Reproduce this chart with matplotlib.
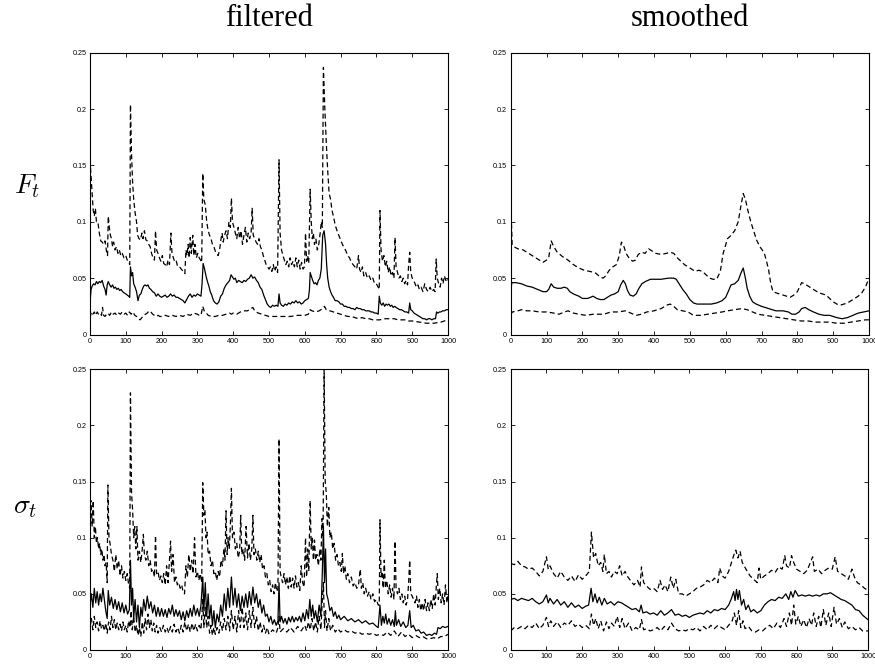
import numpy as np
import matplotlib
matplotlib.use("Agg")
import matplotlib.pyplot as plt

plt.rcParams['mathtext.fontset'] = 'cm'
plt.rcParams['font.family'] = ['Liberation Sans', 'DejaVu Sans']

# ---- F_t filtered: (t, value) pairs ----
F_filt_up = [(0,0.155),(3,0.14),(6,0.125),(9,0.11),(12,0.105),(15,0.112),(18,0.1),(22,0.1),(26,0.09),(30,0.083),
    (34,0.082),(38,0.08),(42,0.083),(46,0.074),(49,0.07),(51,0.105),(54,0.095),(57,0.088),(60,0.085),(63,0.078),
    (66,0.082),(70,0.075),(74,0.078),(78,0.072),(82,0.075),(86,0.07),(90,0.072),(95,0.068),(100,0.07),(104,0.066),
    (108,0.064),(111,0.062),(113,0.204),(116,0.16),(119,0.135),(122,0.12),(126,0.108),(130,0.1),(133,0.088),(137,0.085),
    (141,0.084),(145,0.09),(148,0.085),(152,0.092),(156,0.084),(160,0.083),(164,0.08),(168,0.078),(172,0.072),(176,0.068),
    (180,0.066),(183,0.092),(186,0.075),(190,0.072),(194,0.068),(198,0.065),(202,0.07),(206,0.063),(210,0.062),(214,0.06),
    (218,0.066),(222,0.062),(226,0.09),(229,0.072),(233,0.068),(237,0.064),(241,0.065),(245,0.06),(250,0.06),(255,0.058),
    (260,0.056),(265,0.054),(268,0.075),(271,0.07),(274,0.08),(277,0.068),(280,0.086),(283,0.072),(287,0.088),(290,0.07),
    (293,0.08),(297,0.068),(301,0.072),(305,0.068),(309,0.066),(312,0.064),(315,0.143),(318,0.12),(322,0.115),(326,0.1),
    (330,0.092),(334,0.088),(338,0.085),(342,0.08),(346,0.078),(350,0.074),(354,0.072),(358,0.07),(362,0.075),(366,0.085),
    (369,0.09),(372,0.082),(376,0.088),(380,0.092),(384,0.085),(388,0.1),(392,0.095),(395,0.121),(398,0.1),(402,0.095),
    (406,0.09),(410,0.085),(414,0.095),(418,0.085),(422,0.092),(426,0.08),(430,0.088),(434,0.095),(438,0.082),(442,0.09),
    (446,0.085),(450,0.09),(453,0.112),(456,0.088),(460,0.085),(464,0.082),(468,0.08),(472,0.085),(476,0.078),(480,0.075),
    (484,0.07),(488,0.066),(492,0.062),(496,0.06),(500,0.058),(504,0.06),(508,0.056),(512,0.062),(516,0.056),(520,0.06),
    (524,0.055),(528,0.155),(531,0.09),(535,0.075),(539,0.07),(543,0.066),(547,0.062),(551,0.065),(555,0.06),(559,0.068),
    (563,0.062),(567,0.065),(571,0.06),(575,0.068),(579,0.06),(583,0.066),(587,0.058),(591,0.064),(595,0.058),(599,0.06),
    (602,0.09),(605,0.065),(608,0.07),(611,0.063),(615,0.129),(618,0.1),(621,0.085),(624,0.09),(627,0.08),(631,0.085),
    (635,0.075),(639,0.08),(643,0.09),(646,0.1),(649,0.095),(652,0.237),(656,0.2),(660,0.17),(664,0.145),(668,0.125),
    (672,0.12),(676,0.11),(680,0.105),(685,0.097),(690,0.092),(695,0.088),(700,0.084),(705,0.08),(710,0.077),(715,0.074),
    (720,0.07),(725,0.068),(730,0.064),(735,0.062),(740,0.06),(745,0.058),(750,0.07),(753,0.058),(757,0.055),(761,0.06),
    (765,0.052),(770,0.055),(775,0.05),(780,0.052),(785,0.048),(790,0.05),(795,0.045),(800,0.045),(805,0.042),(808,0.04),
    (810,0.11),(813,0.075),(817,0.065),(821,0.07),(825,0.06),(829,0.065),(833,0.055),(837,0.06),(841,0.052),(845,0.055),
    (849,0.05),(852,0.086),(855,0.06),(859,0.055),(863,0.05),(867,0.052),(871,0.047),(875,0.05),(879,0.045),(883,0.048),
    (887,0.044),(890,0.062),(893,0.073),(896,0.055),(900,0.05),(904,0.048),(908,0.045),(912,0.042),(916,0.044),(920,0.04),
    (925,0.042),(930,0.038),(935,0.045),(940,0.04),(945,0.038),(950,0.042),(955,0.038),(960,0.04),(964,0.038),(967,0.067),
    (970,0.05),(974,0.045),(978,0.042),(982,0.05),(986,0.045),(990,0.052),(994,0.048),(998,0.05),(1000,0.048)]

F_filt_mid = [(0,0.028),(3,0.04),(6,0.043),(10,0.045),(14,0.044),(18,0.047),(22,0.045),(26,0.047),(30,0.046),(34,0.048),
    (38,0.043),(42,0.04),(45,0.035),(48,0.044),(51,0.047),(55,0.044),(59,0.042),(63,0.044),(67,0.041),(71,0.042),
    (75,0.04),(79,0.041),(83,0.039),(87,0.04),(91,0.038),(95,0.037),(100,0.036),(104,0.035),(108,0.034),(111,0.033),
    (113,0.06),(116,0.052),(119,0.055),(122,0.045),(126,0.042),(130,0.038),(134,0.03),(138,0.035),(142,0.036),(146,0.04),
    (150,0.043),(154,0.044),(158,0.043),(162,0.044),(166,0.041),(170,0.04),(175,0.038),(180,0.037),(185,0.034),(190,0.036),
    (195,0.034),(200,0.033),(205,0.034),(210,0.035),(215,0.033),(220,0.034),(225,0.036),(230,0.034),(235,0.035),(240,0.033),
    (245,0.033),(250,0.032),(255,0.031),(260,0.03),(265,0.028),(270,0.031),(275,0.034),(280,0.036),(285,0.033),(290,0.035),
    (295,0.034),(300,0.036),(305,0.035),(310,0.034),(313,0.045),(316,0.063),(320,0.058),(324,0.052),(328,0.047),(332,0.043),
    (336,0.038),(340,0.035),(345,0.03),(350,0.028),(355,0.027),(360,0.029),(365,0.034),(370,0.036),(375,0.041),(380,0.044),
    (385,0.046),(390,0.048),(394,0.053),(398,0.051),(402,0.049),(406,0.05),(410,0.046),(415,0.048),(420,0.047),(425,0.046),
    (430,0.048),(435,0.047),(440,0.049),(445,0.05),(450,0.053),(455,0.05),(460,0.051),(465,0.048),(470,0.046),(475,0.042),
    (480,0.04),(485,0.035),(490,0.031),(495,0.027),(500,0.025),(505,0.024),(510,0.026),(515,0.025),(520,0.026),(525,0.025),
    (528,0.036),(531,0.028),(535,0.026),(540,0.025),(545,0.027),(550,0.026),(555,0.028),(560,0.027),(565,0.029),(570,0.028),
    (575,0.03),(580,0.028),(585,0.029),(590,0.027),(595,0.028),(600,0.03),(605,0.031),(610,0.032),(613,0.04),(615,0.055),
    (618,0.052),(622,0.048),(626,0.045),(630,0.046),(634,0.044),(638,0.048),(642,0.05),(646,0.058),(650,0.088),(654,0.092),
    (658,0.08),(661,0.062),(664,0.05),(668,0.042),(672,0.038),(676,0.035),(680,0.033),(685,0.03),(690,0.03),(695,0.029),
    (700,0.027),(705,0.027),(710,0.025),(715,0.025),(720,0.024),(725,0.024),(730,0.023),(735,0.023),(740,0.022),(745,0.024),
    (750,0.023),(755,0.023),(760,0.022),(765,0.022),(770,0.021),(775,0.021),(780,0.021),(785,0.02),(790,0.02),(795,0.019),
    (800,0.019),(805,0.018),(808,0.034),(811,0.028),(815,0.026),(819,0.028),(823,0.025),(827,0.027),(831,0.026),(835,0.027),
    (839,0.025),(843,0.026),(847,0.024),(851,0.025),(855,0.024),(860,0.023),(865,0.022),(870,0.022),(875,0.021),(880,0.02),
    (885,0.02),(890,0.019),(893,0.028),(896,0.022),(900,0.021),(905,0.019),(910,0.018),(915,0.017),(920,0.016),(925,0.015),
    (930,0.014),(935,0.014),(940,0.013),(945,0.014),(950,0.014),(955,0.013),(960,0.014),(965,0.014),(968,0.02),(972,0.019),
    (976,0.02),(980,0.02),(985,0.021),(990,0.021),(995,0.022),(1000,0.022)]

F_filt_low = [(0,0.015),(4,0.02),(8,0.018),(12,0.02),(16,0.017),(20,0.02),(24,0.018),(28,0.019),(32,0.017),(35,0.024),
    (38,0.017),(42,0.016),(46,0.018),(50,0.019),(55,0.017),(60,0.02),(65,0.018),(70,0.019),(75,0.017),(80,0.019),
    (85,0.018),(90,0.02),(95,0.018),(100,0.019),(105,0.017),(110,0.02),(115,0.018),(120,0.02),(125,0.017),(130,0.016),
    (135,0.014),(140,0.013),(145,0.015),(150,0.017),(155,0.018),(160,0.019),(165,0.021),(170,0.02),(175,0.018),(180,0.017),
    (185,0.016),(190,0.017),(195,0.016),(200,0.016),(210,0.017),(220,0.016),(230,0.017),(240,0.016),(250,0.017),(260,0.016),
    (270,0.018),(280,0.017),(290,0.019),(300,0.018),(305,0.017),(310,0.017),(315,0.025),(320,0.02),(325,0.019),(330,0.017),
    (340,0.016),(350,0.016),(360,0.017),(370,0.017),(380,0.018),(390,0.019),(395,0.018),(400,0.019),(410,0.018),(420,0.02),
    (430,0.021),(440,0.021),(450,0.023),(455,0.024),(460,0.021),(470,0.019),(480,0.018),(490,0.017),(500,0.016),(520,0.016),
    (540,0.016),(560,0.016),(580,0.017),(600,0.017),(610,0.018),(615,0.022),(620,0.021),(630,0.02),(640,0.021),(650,0.023),
    (655,0.025),(660,0.022),(670,0.021),(680,0.02),(690,0.019),(700,0.018),(710,0.017),(720,0.016),(730,0.016),(740,0.015),
    (750,0.014),(760,0.015),(770,0.014),(780,0.014),(790,0.013),(800,0.013),(810,0.013),(820,0.014),(830,0.014),(840,0.014),
    (850,0.014),(860,0.013),(870,0.013),(880,0.013),(890,0.012),(900,0.012),(920,0.011),(940,0.01),(960,0.01),(980,0.011),
    (1000,0.013)]

# ---- F_t smoothed ----
F_smth_up = [(0,0.12),(2,0.1),(4,0.08),(8,0.078),(20,0.076),(35,0.075),(50,0.072),(65,0.069),(80,0.066),(90,0.064),
    (100,0.066),(106,0.068),(113,0.083),(120,0.078),(130,0.073),(145,0.069),(160,0.066),(175,0.062),(190,0.059),(205,0.057),
    (220,0.056),(235,0.055),(250,0.051),(258,0.05),(265,0.052),(275,0.057),(285,0.06),(295,0.062),(303,0.07),(309,0.082),
    (315,0.079),(322,0.072),(330,0.068),(340,0.065),(348,0.066),(356,0.071),(365,0.073),(375,0.072),(385,0.076),(395,0.074),
    (405,0.072),(420,0.071),(435,0.072),(445,0.073),(455,0.072),(465,0.068),(475,0.065),(485,0.062),(495,0.06),(505,0.058),
    (515,0.056),(525,0.057),(535,0.056),(545,0.053),(555,0.05),(565,0.049),(575,0.049),(585,0.056),(593,0.072),(605,0.085),
    (612,0.087),(625,0.092),(635,0.1),(643,0.115),(649,0.125),(655,0.12),(662,0.11),(670,0.1),(678,0.092),(686,0.084),
    (695,0.078),(702,0.075),(708,0.072),(714,0.065),(720,0.057),(726,0.045),(732,0.038),(740,0.037),(750,0.036),(760,0.035),
    (770,0.034),(780,0.033),(790,0.035),(800,0.038),(806,0.042),(812,0.046),(820,0.045),(830,0.043),(840,0.041),(850,0.039),
    (860,0.037),(870,0.036),(880,0.035),(890,0.032),(900,0.029),(910,0.027),(920,0.026),(930,0.027),(940,0.028),(950,0.03),
    (960,0.032),(970,0.034),(980,0.037),(990,0.042),(1000,0.05)]

F_smth_mid = [(0,0.037),(3,0.046),(15,0.046),(30,0.045),(45,0.043),(60,0.042),(75,0.04),(90,0.038),(100,0.038),(106,0.04),
    (113,0.045),(120,0.042),(130,0.041),(140,0.041),(150,0.042),(158,0.041),(165,0.038),(175,0.036),(190,0.034),(200,0.032),
    (215,0.032),(230,0.034),(240,0.032),(250,0.031),(260,0.031),(270,0.033),(280,0.035),(290,0.036),(300,0.038),(307,0.044),
    (314,0.048),(320,0.045),(326,0.039),(333,0.035),(342,0.034),(350,0.036),(358,0.041),(366,0.045),(376,0.047),(390,0.049),
    (405,0.049),(420,0.049),(440,0.05),(455,0.05),(462,0.049),(470,0.045),(480,0.04),(490,0.036),(500,0.031),(510,0.028),
    (520,0.027),(540,0.027),(560,0.027),(575,0.028),(590,0.03),(600,0.033),(607,0.038),(615,0.044),(625,0.045),(635,0.048),
    (642,0.054),(649,0.059),(655,0.05),(660,0.041),(667,0.034),(675,0.029),(685,0.027),(700,0.025),(720,0.023),(740,0.021),
    (760,0.021),(775,0.02),(785,0.018),(795,0.018),(805,0.02),(812,0.023),(822,0.024),(832,0.022),(845,0.02),(860,0.018),
    (875,0.017),(890,0.017),(900,0.016),(910,0.015),(925,0.014),(940,0.015),(955,0.017),(970,0.019),(985,0.02),(1000,0.021)]

F_smth_low = [(0,0.018),(5,0.02),(20,0.021),(30,0.022),(45,0.021),(60,0.021),(80,0.02),(100,0.02),(120,0.019),(135,0.018),
    (150,0.02),(160,0.021),(175,0.019),(190,0.018),(210,0.017),(230,0.018),(260,0.018),(280,0.02),(300,0.02),(320,0.021),
    (335,0.019),(350,0.017),(365,0.018),(380,0.02),(400,0.021),(420,0.023),(435,0.026),(445,0.027),(455,0.025),(465,0.022),
    (480,0.021),(495,0.02),(510,0.017),(530,0.017),(550,0.018),(570,0.019),(590,0.02),(605,0.021),(625,0.022),(645,0.023),
    (660,0.022),(675,0.02),(690,0.018),(710,0.017),(730,0.016),(750,0.015),(770,0.014),(790,0.013),(810,0.012),(830,0.012),
    (850,0.011),(870,0.011),(890,0.011),(910,0.01),(930,0.01),(950,0.011),(970,0.012),(990,0.013),(1000,0.013)]

# ---- sigma_t filtered ----
S_filt_up = [(0,0.13),(3,0.133),(6,0.11),(9,0.133),(12,0.1),(15,0.11),(18,0.095),(21,0.1),(24,0.09),(27,0.095),
    (30,0.085),(33,0.09),(36,0.08),(39,0.085),(42,0.075),(45,0.078),(48,0.06),(50,0.147),(53,0.1),(56,0.095),
    (60,0.085),(64,0.08),(68,0.07),(72,0.085),(76,0.072),(80,0.08),(84,0.066),(88,0.075),(92,0.064),(96,0.07),
    (100,0.062),(104,0.068),(108,0.058),(111,0.055),(113,0.229),(116,0.14),(119,0.125),(122,0.1),(125,0.11),(128,0.09),
    (131,0.11),(134,0.08),(138,0.088),(142,0.078),(146,0.09),(149,0.103),(152,0.085),(156,0.08),(160,0.088),(164,0.075),
    (168,0.08),(172,0.07),(176,0.072),(180,0.065),(183,0.102),(186,0.068),(190,0.07),(194,0.062),(198,0.066),(202,0.06),
    (206,0.068),(210,0.058),(214,0.075),(218,0.06),(222,0.08),(225,0.097),(228,0.07),(232,0.085),(236,0.06),(240,0.065),
    (244,0.058),(248,0.06),(252,0.055),(256,0.058),(260,0.052),(264,0.05),(268,0.075),(272,0.065),(276,0.085),(280,0.07),
    (284,0.08),(288,0.068),(292,0.1),(296,0.065),(300,0.07),(304,0.062),(308,0.068),(312,0.06),(315,0.149),(318,0.12),
    (321,0.125),(324,0.1),(327,0.105),(330,0.085),(334,0.088),(338,0.075),(342,0.08),(346,0.068),(350,0.07),(354,0.062),
    (358,0.07),(362,0.065),(366,0.08),(370,0.075),(374,0.09),(377,0.08),(380,0.124),(383,0.085),(386,0.1),(389,0.09),
    (392,0.11),(395,0.144),(398,0.1),(402,0.105),(406,0.09),(410,0.095),(414,0.082),(418,0.088),(421,0.12),(424,0.085),
    (428,0.09),(432,0.08),(436,0.11),(440,0.082),(444,0.095),(448,0.08),(452,0.09),(455,0.12),(458,0.085),(462,0.09),
    (466,0.08),(470,0.088),(474,0.078),(478,0.085),(482,0.072),(486,0.075),(490,0.065),(494,0.068),(498,0.058),(502,0.062),
    (506,0.052),(510,0.058),(514,0.05),(518,0.06),(522,0.052),(525,0.055),(528,0.188),(531,0.07),(534,0.065),(538,0.06),
    (542,0.068),(546,0.058),(550,0.065),(554,0.055),(558,0.066),(562,0.056),(566,0.064),(570,0.055),(574,0.066),(578,0.056),
    (582,0.06),(586,0.053),(590,0.075),(594,0.06),(598,0.056),(602,0.1),(605,0.065),(608,0.09),(611,0.07),(615,0.133),
    (618,0.09),(621,0.1),(624,0.08),(627,0.098),(630,0.08),(634,0.085),(638,0.075),(642,0.09),(645,0.08),(648,0.117),
    (651,0.1),(654,0.25),(657,0.15),(660,0.14),(663,0.11),(667,0.127),(670,0.1),(674,0.105),(678,0.09),(682,0.095),
    (686,0.08),(690,0.085),(694,0.075),(698,0.078),(702,0.07),(705,0.086),(708,0.068),(712,0.075),(716,0.063),(720,0.068),
    (725,0.06),(730,0.065),(735,0.057),(740,0.06),(745,0.055),(750,0.058),(755,0.072),(758,0.055),(762,0.06),(766,0.05),
    (770,0.055),(775,0.048),(780,0.052),(785,0.045),(790,0.05),(795,0.043),(800,0.045),(805,0.04),(808,0.04),(810,0.116),
    (813,0.065),(816,0.07),(819,0.055),(822,0.08),(825,0.055),(829,0.062),(833,0.05),(837,0.058),(841,0.047),(845,0.055),
    (849,0.045),(852,0.097),(855,0.055),(859,0.05),(863,0.055),(867,0.045),(871,0.05),(875,0.042),(879,0.048),(883,0.04),
    (887,0.045),(890,0.06),(893,0.08),(896,0.05),(900,0.048),(904,0.045),(908,0.042),(912,0.048),(916,0.038),(920,0.045),
    (924,0.035),(928,0.042),(932,0.035),(936,0.045),(940,0.035),(944,0.042),(948,0.035),(952,0.045),(956,0.037),(960,0.05),
    (964,0.04),(967,0.055),(970,0.068),(973,0.045),(977,0.055),(981,0.042),(985,0.05),(989,0.04),(993,0.058),(997,0.042),
    (1000,0.048)]

S_filt_mid = [(0,0.04),(4,0.05),(8,0.038),(12,0.055),(16,0.042),(20,0.052),(24,0.04),(28,0.05),(32,0.043),(36,0.055),
    (40,0.045),(44,0.035),(48,0.028),(51,0.053),(55,0.04),(60,0.047),(65,0.037),(70,0.045),(75,0.036),(80,0.043),
    (85,0.034),(90,0.042),(95,0.033),(100,0.04),(105,0.032),(110,0.036),(113,0.08),(116,0.04),(119,0.055),(122,0.028),
    (126,0.045),(130,0.025),(134,0.04),(138,0.02),(142,0.038),(146,0.03),(150,0.045),(155,0.035),(160,0.048),(165,0.037),
    (170,0.043),(175,0.033),(180,0.04),(185,0.03),(190,0.038),(195,0.03),(200,0.037),(205,0.03),(210,0.036),(215,0.029),
    (220,0.037),(225,0.032),(230,0.04),(235,0.03),(240,0.036),(245,0.03),(250,0.035),(255,0.027),(260,0.034),(265,0.026),
    (270,0.035),(275,0.029),(280,0.037),(285,0.03),(290,0.04),(295,0.031),(300,0.037),(305,0.03),(310,0.04),(315,0.065),
    (318,0.035),(322,0.06),(326,0.03),(330,0.05),(334,0.028),(338,0.04),(342,0.022),(346,0.035),(350,0.02),(355,0.032),
    (360,0.025),(365,0.04),(370,0.03),(375,0.05),(380,0.035),(385,0.055),(390,0.038),(395,0.065),(400,0.04),(405,0.055),
    (410,0.038),(415,0.05),(420,0.035),(425,0.048),(430,0.038),(435,0.05),(440,0.038),(445,0.052),(450,0.04),(455,0.056),
    (460,0.042),(465,0.05),(470,0.038),(475,0.045),(480,0.033),(485,0.04),(490,0.03),(495,0.032),(500,0.025),(505,0.03),
    (510,0.023),(515,0.027),(520,0.022),(525,0.026),(528,0.06),(531,0.025),(535,0.03),(540,0.024),(545,0.028),(550,0.023),
    (555,0.029),(560,0.025),(565,0.03),(570,0.025),(575,0.029),(580,0.026),(585,0.03),(590,0.025),(595,0.033),(600,0.026),
    (605,0.036),(610,0.028),(614,0.045),(618,0.03),(622,0.04),(626,0.028),(630,0.035),(635,0.025),(640,0.04),(645,0.03),
    (649,0.07),(652,0.11),(655,0.06),(658,0.09),(661,0.05),(665,0.045),(670,0.035),(675,0.038),(680,0.03),(685,0.034),
    (690,0.028),(695,0.031),(700,0.027),(710,0.03),(720,0.026),(730,0.028),(740,0.025),(750,0.027),(760,0.024),(770,0.026),
    (780,0.023),(790,0.024),(800,0.021),(805,0.02),(810,0.04),(814,0.022),(818,0.03),(822,0.024),(826,0.032),(830,0.023),
    (835,0.028),(840,0.022),(845,0.027),(850,0.021),(853,0.035),(856,0.022),(862,0.027),(868,0.021),(875,0.025),(882,0.02),
    (888,0.022),(893,0.035),(897,0.02),(903,0.022),(910,0.017),(918,0.018),(925,0.015),(932,0.016),(940,0.013),(948,0.014),
    (955,0.013),(962,0.015),(968,0.014),(972,0.02),(978,0.019),(985,0.021),(992,0.02),(1000,0.021)]

S_filt_low = [(0,0.02),(4,0.028),(8,0.018),(12,0.03),(16,0.02),(20,0.025),(24,0.017),(28,0.026),(32,0.019),(36,0.022),
    (40,0.017),(44,0.024),(48,0.015),(52,0.025),(56,0.018),(60,0.03),(64,0.02),(68,0.027),(72,0.018),(76,0.024),
    (80,0.018),(84,0.023),(88,0.017),(92,0.025),(96,0.018),(100,0.022),(104,0.016),(108,0.026),(112,0.02),(115,0.035),
    (118,0.018),(122,0.03),(126,0.016),(130,0.022),(134,0.013),(138,0.02),(142,0.012),(146,0.025),(150,0.015),(154,0.028),
    (158,0.018),(162,0.032),(166,0.02),(170,0.027),(174,0.017),(178,0.024),(182,0.016),(186,0.022),(190,0.015),(195,0.02),
    (200,0.016),(205,0.022),(210,0.016),(215,0.02),(220,0.015),(225,0.021),(230,0.016),(235,0.023),(240,0.016),(245,0.02),
    (250,0.015),(255,0.022),(260,0.016),(265,0.025),(270,0.017),(275,0.023),(280,0.016),(285,0.024),(290,0.017),(295,0.023),
    (300,0.017),(305,0.022),(310,0.018),(315,0.045),(318,0.02),(322,0.038),(326,0.02),(330,0.03),(334,0.015),(338,0.022),
    (342,0.013),(346,0.02),(350,0.014),(355,0.02),(360,0.015),(365,0.025),(370,0.017),(375,0.028),(380,0.018),(385,0.03),
    (390,0.017),(395,0.035),(400,0.018),(405,0.03),(410,0.016),(415,0.035),(420,0.02),(425,0.038),(430,0.02),(435,0.033),
    (440,0.018),(445,0.035),(450,0.02),(455,0.038),(460,0.02),(465,0.03),(470,0.017),(475,0.025),(480,0.016),(485,0.022),
    (490,0.015),(495,0.02),(500,0.014),(510,0.018),(520,0.015),(525,0.02),(528,0.03),(531,0.016),(540,0.019),(550,0.016),
    (560,0.02),(570,0.016),(580,0.021),(590,0.017),(600,0.022),(605,0.017),(610,0.025),(615,0.018),(620,0.028),(625,0.017),
    (630,0.025),(635,0.016),(640,0.03),(645,0.018),(649,0.045),(652,0.06),(655,0.02),(658,0.035),(662,0.017),(667,0.028),
    (672,0.017),(678,0.022),(685,0.016),(692,0.019),(700,0.016),(710,0.018),(720,0.016),(730,0.017),(740,0.015),(750,0.016),
    (760,0.014),(770,0.015),(780,0.014),(790,0.015),(800,0.013),(810,0.014),(820,0.013),(830,0.016),(840,0.013),(850,0.017),
    (860,0.012),(870,0.016),(880,0.012),(890,0.014),(900,0.011),(910,0.013),(920,0.011),(930,0.012),(940,0.01),(950,0.01),
    (960,0.011),(970,0.01),(980,0.012),(990,0.012),(1000,0.014)]

# ---- sigma_t smoothed ----
S_smth_up = [(0,0.077),(10,0.076),(20,0.079),(30,0.075),(40,0.074),(50,0.072),(60,0.073),(70,0.07),(80,0.066),(90,0.07),
    (100,0.083),(105,0.072),(110,0.075),(120,0.068),(130,0.064),(140,0.07),(150,0.065),(160,0.062),(170,0.066),(180,0.061),
    (190,0.067),(200,0.063),(210,0.066),(220,0.07),(226,0.105),(232,0.082),(238,0.086),(245,0.075),(252,0.078),(258,0.07),
    (262,0.085),(268,0.068),(275,0.07),(282,0.065),(290,0.07),(298,0.068),(305,0.075),(312,0.066),(320,0.07),(328,0.065),
    (335,0.062),(345,0.058),(355,0.062),(362,0.056),(366,0.074),(372,0.06),(380,0.057),(390,0.054),(400,0.055),(410,0.052),
    (418,0.062),(425,0.054),(432,0.058),(440,0.052),(448,0.065),(455,0.055),(462,0.063),(470,0.05),(480,0.05),(490,0.048),
    (500,0.05),(510,0.052),(520,0.055),(530,0.056),(540,0.058),(550,0.062),(560,0.06),(570,0.064),(580,0.06),(585,0.073),
    (592,0.066),(600,0.064),(610,0.07),(618,0.078),(625,0.085),(630,0.089),(636,0.082),(642,0.088),(648,0.078),(655,0.074),
    (662,0.07),(670,0.066),(680,0.063),(690,0.06),(695,0.073),(700,0.063),(710,0.066),(720,0.068),(730,0.071),(740,0.069),
    (750,0.074),(760,0.072),(767,0.084),(772,0.075),(780,0.073),(786,0.084),(792,0.078),(800,0.072),(810,0.07),(820,0.068),
    (830,0.071),(845,0.083),(850,0.07),(860,0.072),(870,0.068),(880,0.071),(890,0.073),(900,0.072),(908,0.083),(915,0.07),
    (925,0.068),(935,0.066),(945,0.063),(955,0.072),(962,0.065),(970,0.06),(980,0.058),(990,0.055),(1000,0.053)]

S_smth_mid = [(0,0.045),(10,0.046),(20,0.044),(30,0.046),(40,0.045),(50,0.044),(60,0.046),(70,0.043),(80,0.041),(90,0.043),
    (100,0.049),(105,0.042),(110,0.046),(120,0.041),(130,0.045),(140,0.04),(150,0.043),(160,0.038),(170,0.042),(180,0.038),
    (190,0.04),(200,0.037),(210,0.039),(218,0.04),(225,0.055),(230,0.043),(236,0.05),(242,0.042),(248,0.047),(255,0.04),
    (262,0.046),(270,0.041),(280,0.043),(290,0.04),(300,0.043),(310,0.042),(320,0.04),(330,0.038),(340,0.036),(350,0.037),
    (360,0.034),(365,0.04),(370,0.033),(380,0.034),(390,0.032),(400,0.033),(410,0.031),(420,0.035),(430,0.031),(440,0.033),
    (450,0.036),(460,0.031),(470,0.032),(480,0.03),(490,0.031),(500,0.029),(510,0.031),(520,0.032),(530,0.033),(540,0.032),
    (550,0.035),(560,0.033),(570,0.036),(580,0.035),(590,0.037),(600,0.036),(610,0.04),(618,0.046),(624,0.052),(628,0.044),
    (632,0.054),(636,0.045),(640,0.053),(646,0.04),(652,0.045),(658,0.036),(665,0.04),(672,0.034),(680,0.036),(690,0.033),
    (700,0.035),(710,0.04),(720,0.043),(730,0.045),(740,0.044),(750,0.047),(760,0.046),(770,0.05),(778,0.045),(784,0.052),
    (790,0.047),(796,0.053),(805,0.048),(815,0.049),(825,0.048),(835,0.049),(845,0.048),(855,0.049),(865,0.048),(875,0.05),
    (885,0.05),(895,0.051),(905,0.049),(915,0.047),(925,0.045),(935,0.044),(945,0.042),(955,0.04),(965,0.036),(975,0.035),
    (985,0.031),(1000,0.027)]

S_smth_low = [(0,0.017),(10,0.02),(20,0.019),(30,0.021),(40,0.019),(50,0.022),(60,0.02),(70,0.024),(80,0.019),(90,0.022),
    (100,0.029),(106,0.021),(112,0.026),(120,0.021),(130,0.025),(140,0.02),(150,0.024),(160,0.022),(170,0.026),(180,0.021),
    (190,0.023),(200,0.02),(210,0.022),(220,0.019),(226,0.032),(232,0.022),(238,0.028),(245,0.019),(252,0.026),(260,0.017),
    (268,0.025),(275,0.019),(282,0.024),(290,0.021),(298,0.03),(305,0.02),(312,0.028),(320,0.019),(330,0.024),(340,0.017),
    (350,0.02),(360,0.018),(366,0.027),(372,0.018),(380,0.019),(390,0.017),(400,0.018),(410,0.02),(420,0.017),(430,0.021),
    (440,0.018),(450,0.024),(460,0.019),(470,0.017),(480,0.018),(490,0.017),(500,0.019),(510,0.018),(520,0.02),(530,0.017),
    (540,0.021),(550,0.018),(560,0.022),(570,0.019),(580,0.022),(590,0.02),(600,0.018),(610,0.022),(620,0.026),(626,0.033),
    (632,0.022),(638,0.035),(644,0.02),(650,0.026),(656,0.019),(665,0.021),(675,0.017),(685,0.016),(695,0.018),(705,0.017),
    (715,0.02),(725,0.022),(735,0.019),(745,0.024),(755,0.02),(765,0.028),(772,0.021),(780,0.033),(786,0.022),(792,0.04),
    (798,0.023),(805,0.03),(812,0.021),(820,0.027),(828,0.02),(835,0.028),(842,0.022),(848,0.033),(855,0.021),(862,0.03),
    (868,0.02),(875,0.036),(882,0.022),(890,0.033),(897,0.021),(905,0.038),(912,0.023),(920,0.028),(928,0.02),(935,0.025),
    (945,0.019),(955,0.021),(965,0.018),(975,0.02),(985,0.017),(1000,0.017)]

panels = [
    [[F_filt_up, F_filt_mid, F_filt_low], [F_smth_up, F_smth_mid, F_smth_low]],
    [[S_filt_up, S_filt_mid, S_filt_low], [S_smth_up, S_smth_mid, S_smth_low]],
]

fig = plt.figure(figsize=(8.75, 6.66), dpi=100)
W, H = 875.0, 666.0
# axes boxes in pixels: left, top, right, bottom
boxes = [
    [(90, 52.7, 448, 334.5), (510.7, 52.7, 869, 334.5)],
    [(90, 369.3, 448, 650), (510.7, 369.3, 868, 650)],
]

for r in range(2):
    for c in range(2):
        l, t, rr, b = boxes[r][c]
        ax = fig.add_axes([l / W, 1 - b / H, (rr - l) / W, (b - t) / H])
        up, mid, low = panels[r][c]
        for ser, ls in [(up, 'dash'), (mid, 'solid'), (low, 'dash')]:
            x, y = np.array(ser).T
            if ls == 'solid':
                ax.plot(x, y, color='black', lw=0.9)
            else:
                ax.plot(x, y, color='black', lw=0.9, dashes=(4, 2.5))
        ax.set_xlim(0, 1000)
        ax.set_ylim(0, 0.25)
        ax.set_xticks(np.arange(0, 1001, 100))
        ax.set_yticks([0, 0.05, 0.1, 0.15, 0.2, 0.25])
        ax.set_yticklabels(['0', '0.05', '0.1', '0.15', '0.2', '0.25'])
        ax.tick_params(direction='in', top=True, right=True, labelsize=5.2,
                       length=3, width=0.6, pad=2.5)
        for s in ax.spines.values():
            s.set_linewidth(0.8)

fig.text((90 + 448) / 2 / W, 1 - 19 / H, 'filtered', ha='center', va='center',
         fontsize=22, family='Liberation Serif')
fig.text((510.7 + 869) / 2 / W, 1 - 19 / H, 'smoothed', ha='center', va='center',
         fontsize=22, family='Liberation Serif')
fig.text(27 / W, 1 - 186 / H, r'$F_t$', ha='center', va='center', fontsize=20)
fig.text(25 / W, 1 - 507 / H, r'$\sigma_t$', ha='center', va='center', fontsize=20)

fig.savefig('out.png', dpi=100)
